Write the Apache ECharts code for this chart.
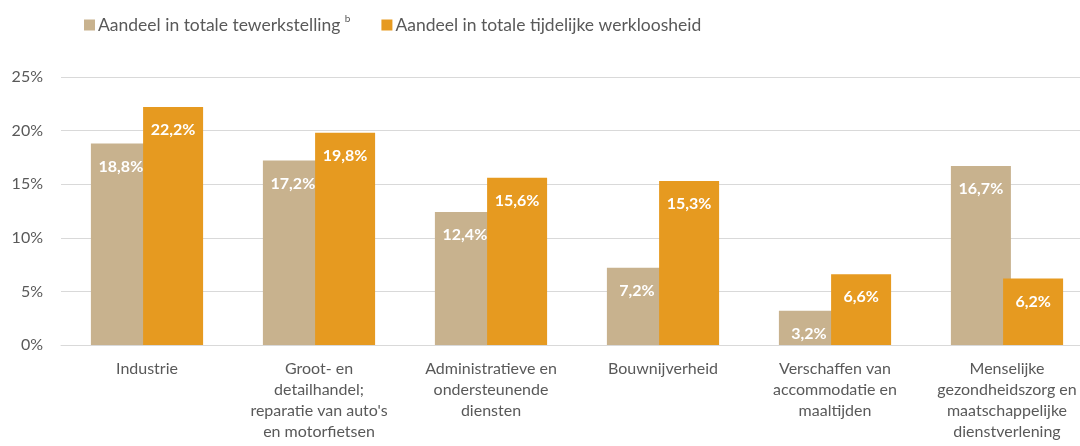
<!DOCTYPE html>
<html>
<head>
<meta charset="utf-8">
<script src="https://cdn.jsdelivr.net/npm/echarts@6/dist/echarts.min.js"></script>
<style>
  html, body { margin: 0; padding: 0; background: #fff; }
  #container { width: 1080px; height: 446px; }
</style>
</head>
<body>
<div id="container"></div>
<script>
// data
var categories = [
    'Industrie',
    'Groot- en\ndetailhandel;\nreparatie van auto\'s\nen motorfietsen',
    'Administratieve en\nondersteunende\ndiensten',
    'Bouwnijverheid',
    'Verschaffen van\naccommodatie en\nmaaltijden',
    'Menselijke\ngezondheidszorg en\nmaatschappelijke\ndienstverlening'
];
var tewerkstelling = [18.8, 17.2, 12.4, 7.2, 3.2, 16.7];
var werkloosheid = [22.2, 19.8, 15.6, 15.3, 6.6, 6.2];
var yTicks = [0, 5, 10, 15, 20, 25];

var FONT = 'Lato';
var GREY = '#595959';

function fmtPct(v) {
    return v.toFixed(1).replace('.', ',') + '%';
}

var labelOpt = {
    show: true,
    position: 'insideTop',
    distance: 15,
    color: '#fff',
    fontFamily: FONT,
    fontWeight: 'bold',
    fontSize: 16,
    formatter: function (p) { return fmtPct(p.value); }
};

var chart = echarts.init(document.getElementById('container'));
chart.setOption({
    animation: false,
    textStyle: { fontFamily: FONT },
    legend: {
        left: 79,
        top: 9,
        itemWidth: 11,
        itemHeight: 11,
        itemGap: 31,
        icon: 'rect',
        textStyle: {
            color: GREY,
            fontFamily: FONT,
            fontSize: 17.5,
            padding: [0, 0, 0, -2],
            rich: {
                sup: { fontSize: 10, color: GREY, fontFamily: FONT, verticalAlign: 'top', padding: [0, 0, 12, 0] }
            }
        },
        formatter: function (name) {
            if (name === 'Aandeel in totale tewerkstelling') {
                return name + ' {sup|b}';
            }
            return name;
        },
        data: ['Aandeel in totale tewerkstelling', 'Aandeel in totale tijdelijke werkloosheid']
    },
    grid: {
        left: 61,
        width: 1032,
        top: 77,
        bottom: 101,
        containLabel: false,
        outerBoundsMode: 'none'
    },
    xAxis: {
        type: 'category',
        data: categories,
        axisLine: { lineStyle: { color: '#d9d9d9', width: 1 } },
        axisTick: { show: false },
        axisLabel: {
            color: GREY,
            fontFamily: FONT,
            fontSize: 16,
            lineHeight: 21,
            margin: 13,
            interval: 0,
            hideOverlap: false
        }
    },
    yAxis: {
        type: 'value',
        min: yTicks[0],
        max: yTicks[yTicks.length - 1],
        interval: 5,
        axisLine: { show: false },
        axisTick: { show: false },
        splitLine: { lineStyle: { color: '#d9d9d9', width: 1 } },
        axisLabel: {
            color: GREY,
            fontFamily: FONT,
            fontSize: 16,
            margin: 18,
            formatter: '{value}%'
        }
    },
    series: [{
        name: 'Aandeel in totale tewerkstelling',
        type: 'bar',
        data: tewerkstelling,
        barWidth: 60,
        barGap: '-13%',
        itemStyle: { color: '#C8B28E' },
        label: labelOpt
    }, {
        name: 'Aandeel in totale tijdelijke werkloosheid',
        type: 'bar',
        data: werkloosheid,
        barWidth: 60,
        barGap: '-13%',
        itemStyle: { color: '#E69A20' },
        label: labelOpt
    }]
});
</script>
</body>
</html>
